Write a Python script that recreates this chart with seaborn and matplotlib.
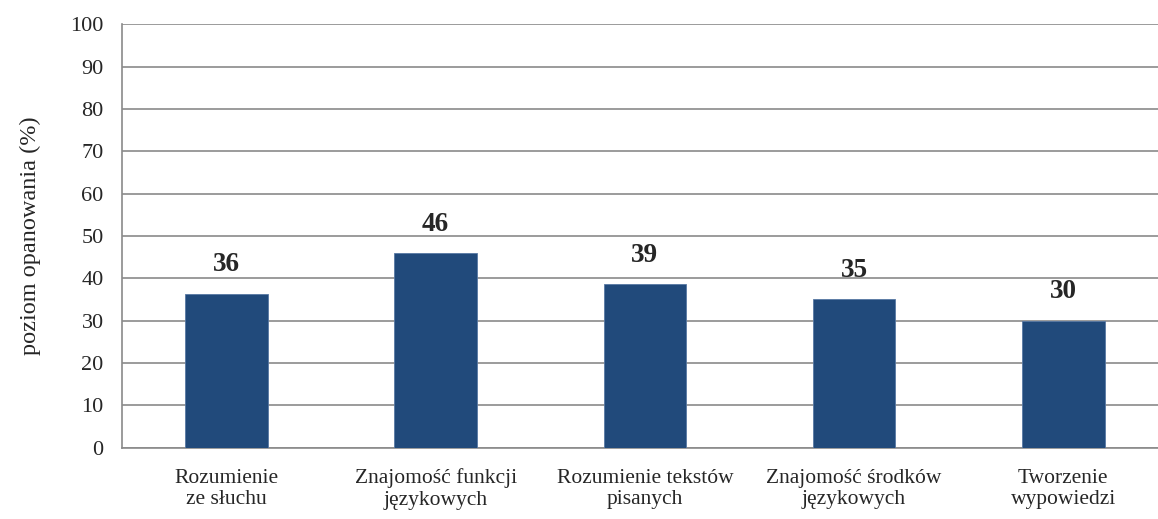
import seaborn as sns
import matplotlib.pyplot as plt
import pandas as pd

# dane
kategorie = ["Rozumienie\nze słuchu", "Znajomość funkcji\njęzykowych",
             "Rozumienie tekstów\npisanych", "Znajomość środków\njęzykowych",
             "Tworzenie\nwypowiedzi"]
wyniki = [36.3, 45.9, 38.6, 35.0, 30.0]
etykiety = ["36", "46", "39", "35", "30"]

df = pd.DataFrame({"obszar": kategorie, "wynik": wyniki})

sns.set_style("white")
plt.rcParams['font.family'] = ['Liberation Serif', 'DejaVu Serif']

fig = plt.figure(figsize=(11.58, 5.19), dpi=100)
# wykres jest przycięty z prawej strony, tak jak w oryginale
ax = fig.add_axes([0.1051, 0.1374, 0.9035, 0.8158])

sns.barplot(x="obszar", y="wynik", data=df, color="#214A7B", width=0.395,
            edgecolor="#5878a4", linewidth=0.6, saturation=1, ax=ax, zorder=3)

for i, (v, t) in enumerate(zip(wyniki, etykiety)):
    ax.annotate(t, (i, v), xytext=(0, 21), textcoords="offset points",
                ha="center", va="center", fontsize=19.5, fontweight="bold")

ax.set_ylim(0, 100)
ax.set_xlim(-0.5, 4.5)
ax.set_yticks(range(0, 101, 10))
ax.yaxis.grid(True, color="#8a8a8a", linewidth=1.2, zorder=0)
ax.set_axisbelow(True)

ax.set_xticks([i - 0.5 for i in range(6)], minor=True)
ax.tick_params(axis="x", which="major", length=0, labelsize=15.5, pad=15)
ax.tick_params(axis="x", which="minor", length=4, color="#8a8a8a", width=1.2)
ax.tick_params(axis="y", length=4, color="#8a8a8a", width=1.2, labelsize=16, pad=9)

for s in ["top", "right"]:
    ax.spines[s].set_visible(False)
for s in ["left", "bottom"]:
    ax.spines[s].set_color("#8a8a8a")
    ax.spines[s].set_linewidth(1.2)

ax.set_xlabel("")
ax.set_ylabel("poziom opanowania (%)", fontsize=17.5)
ax.yaxis.label.set_verticalalignment("center")
ax.yaxis.set_label_coords(-0.087, 0.5)

fig.savefig("out.png", dpi=100)
